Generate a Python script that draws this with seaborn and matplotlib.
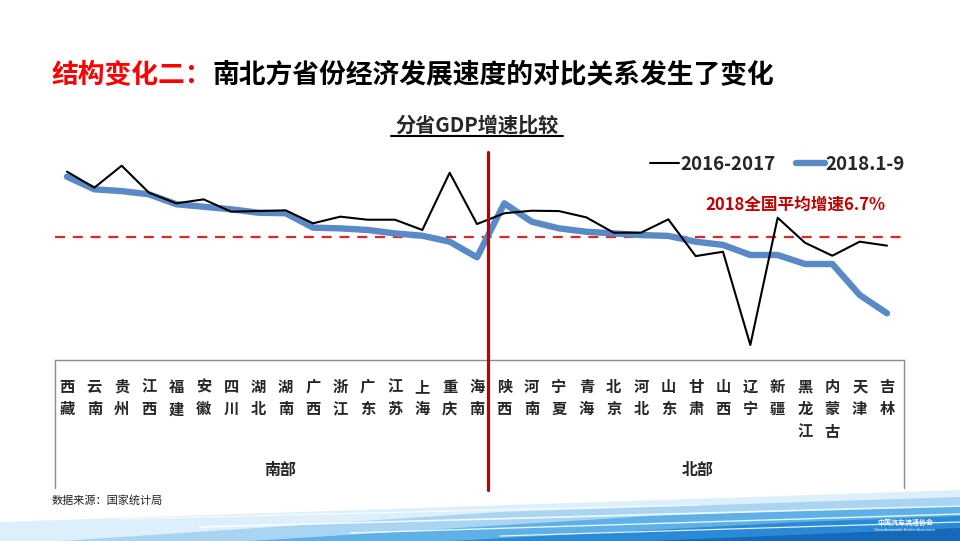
import matplotlib
matplotlib.use("Agg")
import matplotlib.pyplot as plt
from matplotlib.lines import Line2D
from matplotlib.patches import Polygon
import seaborn as sns
import pandas as pd

# ---------------- data ----------------
provinces = ["西藏", "云南", "贵州", "江西", "福建", "安徽", "四川", "湖北", "湖南", "广西",
             "浙江", "广东", "江苏", "上海", "重庆", "海南",
             "陕西", "河南", "宁夏", "青海", "北京", "河北", "山东", "甘肃", "山西", "辽宁",
             "新疆", "黑龙江", "内蒙古", "天津", "吉林"]
growth_2016_2017 = [10.33, 9.44, 10.66, 9.16, 8.57, 8.79, 8.11, 8.14, 8.18, 7.46,
                    7.83, 7.66, 7.66, 7.09, 10.27, 7.42,
                    8.02, 8.16, 8.14, 7.79, 6.94, 6.94, 7.68, 5.64, 5.88, 0.70,
                    7.77, 6.38, 5.66, 6.44, 6.22]
growth_2018_q1_q3 = [10.05, 9.35, 9.25, 9.07, 8.52, 8.38, 8.24, 8.05, 8.02, 7.22,
                     7.18, 7.09, 6.90, 6.77, 6.44, 5.57,
                     8.57, 7.55, 7.18, 6.99, 6.90, 6.81, 6.76, 6.44, 6.26, 5.70,
                     5.70, 5.20, 5.20, 3.48, 2.46]
series_names = ["2016-2017", "2018.1-9"]
national_avg = 6.7
n_south = 16
region_labels = ["南部", "北部"]
title_red = "结构变化二："
title_black = "南北方省份经济发展速度的对比关系发生了变化"
subtitle = "分省GDP增速比较"
avg_label = "2018全国平均增速6.7%"
source = "数据来源：国家统计局"

# ---------------- style ----------------
sns.set_theme(style="white")
plt.rcParams["font.family"] = ["Noto Sans CJK SC", "DejaVu Sans"]
plt.rcParams["axes.unicode_minus"] = False

W, H = 960, 541
fig = plt.figure(figsize=(9.6, 5.41), dpi=100)
fig.patch.set_facecolor("white")

def fx(px):
    return px / W

def fy(py):
    return 1 - py / H

# axes placement (pixel box 55..904 x 150..360)
ax = fig.add_axes([fx(55), fy(360), fx(904) - fx(55), (360 - 150) / H])
ax.set_facecolor("none")

idx = list(range(len(provinces)))
df = pd.DataFrame({"idx": idx * 2,
                   "value": growth_2016_2017 + growth_2018_q1_q3,
                   "series": [series_names[0]] * len(idx) + [series_names[1]] * len(idx)})

black = "#000000"
blue = "#5A8AC6"
sns.lineplot(data=df[df.series == series_names[1]], x="idx", y="value", ax=ax,
             color=blue, linewidth=4.6, legend=False, zorder=2,
             solid_joinstyle="round", solid_capstyle="round")
sns.lineplot(data=df[df.series == series_names[0]], x="idx", y="value", ax=ax,
             color=black, linewidth=1.5, legend=False, zorder=3)

ax.axhline(national_avg, color="#E0262B", linewidth=1.6, linestyle=(0, (4.5, 3.5)), zorder=1)

px_per_unit = (887 - 67) / 30
ax.set_xlim(-(67 - 55) / px_per_unit, 30 + (904 - 887) / px_per_unit)
ax.set_ylim(national_avg - (360 - 237) / 18, national_avg + (237 - 150) / 18)

ax.set_xlabel("")
ax.set_ylabel("")
ax.set_yticks([])
ax.set_xticks(idx)
ax.set_xticklabels(["\n".join(p) for p in provinces], fontsize=11, fontweight="bold",
                   linespacing=1.5)
ax.tick_params(axis="x", length=0, pad=13.5)
for s in ["left", "right", "top"]:
    ax.spines[s].set_visible(False)
ax.spines["bottom"].set_color("#8C8C8C")
ax.spines["bottom"].set_linewidth(1.0)

# divider between south and north
div_x = (488 - 67) / px_per_unit
ax.axvline(div_x, ymin=(360 - 490) / 210, ymax=(360 - 152) / 210, color="#C00000",
           linewidth=2.3, clip_on=False, zorder=4)

# category box sides
for xp in (55, 904):
    fig.add_artist(Line2D([fx(xp), fx(xp)], [fy(360), fy(488)], color="#8C8C8C", linewidth=1.0))

# region labels
fig.text(fx(280), fy(470), region_labels[0], fontsize=11.5, fontweight="bold", ha="center", va="center")
fig.text(fx(698), fy(470), region_labels[1], fontsize=11.5, fontweight="bold", ha="center", va="center")

# legend
handles = [Line2D([], [], color=black, linewidth=1.5),
           Line2D([], [], color=blue, linewidth=4.6, solid_capstyle="round")]
leg = fig.legend(handles, series_names, loc="center right", bbox_to_anchor=(fx(922), fy(164)),
                 ncol=2, frameon=False, handlelength=1.55, handletextpad=0.05, columnspacing=1.1,
                 prop={"weight": "bold", "size": 13.5})

# average label
fig.text(fx(795), fy(205), avg_label, fontsize=12, fontweight="bold", color="#C00000",
         ha="center", va="center")

# titles
t1 = fig.text(fx(52), fy(75), title_red, fontsize=19.3, fontweight="bold", color="#FF0000",
              ha="left", va="center")
fig.canvas.draw()
bb = t1.get_window_extent()
fig.text(bb.x1 / W, fy(75), title_black, fontsize=19.3, fontweight="bold", color="#000000",
         ha="left", va="center")

fig.text(fx(477), fy(125), subtitle, fontsize=14.5, fontweight="bold", ha="center", va="center")
fig.add_artist(Line2D([fx(391), fx(563)], [fy(136), fy(136)], color="black", linewidth=1.5))

# source
fig.text(fx(52), fy(500), source, fontsize=8, ha="left", va="center", color="#222222")

# decorative bottom wave
waves = [
    ([(0, 522), (300, 512), (960, 490), (960, 541), (0, 541)], "#DCEFFA"),
    ([(60, 541), (500, 512), (960, 497), (960, 541)], "#A9D5F2"),
    ([(250, 541), (650, 516), (960, 505), (960, 541)], "#5DB1E6"),
    ([(450, 541), (800, 522), (960, 516), (960, 541)], "#2B8AD6"),
    ([(650, 541), (960, 528), (960, 541)], "#1668B8"),
]
for pts, col in waves:
    fig.add_artist(Polygon([(fx(x), fy(y)) for x, y in pts], closed=True,
                           facecolor=col, edgecolor="none", transform=fig.transFigure))
for (x0, y0, x1, y1, lw) in [(200, 527, 960, 506, 1.2), (350, 533, 960, 514, 1.0),
                             (500, 536, 960, 522, 0.9), (120, 519, 700, 505, 0.8)]:
    fig.add_artist(Line2D([fx(x0), fx(x1)], [fy(y0), fy(y1)], color="white", linewidth=lw, alpha=0.85))

fig.text(fx(905), fy(522), "中国汽车流通协会", fontsize=5, color="white", ha="center", va="center",
         fontweight="bold")
fig.text(fx(905), fy(530), "China Automobile Dealers Association", fontsize=2.5, color="white",
         ha="center", va="center")

fig.savefig("out.png", dpi=100, facecolor="white")
